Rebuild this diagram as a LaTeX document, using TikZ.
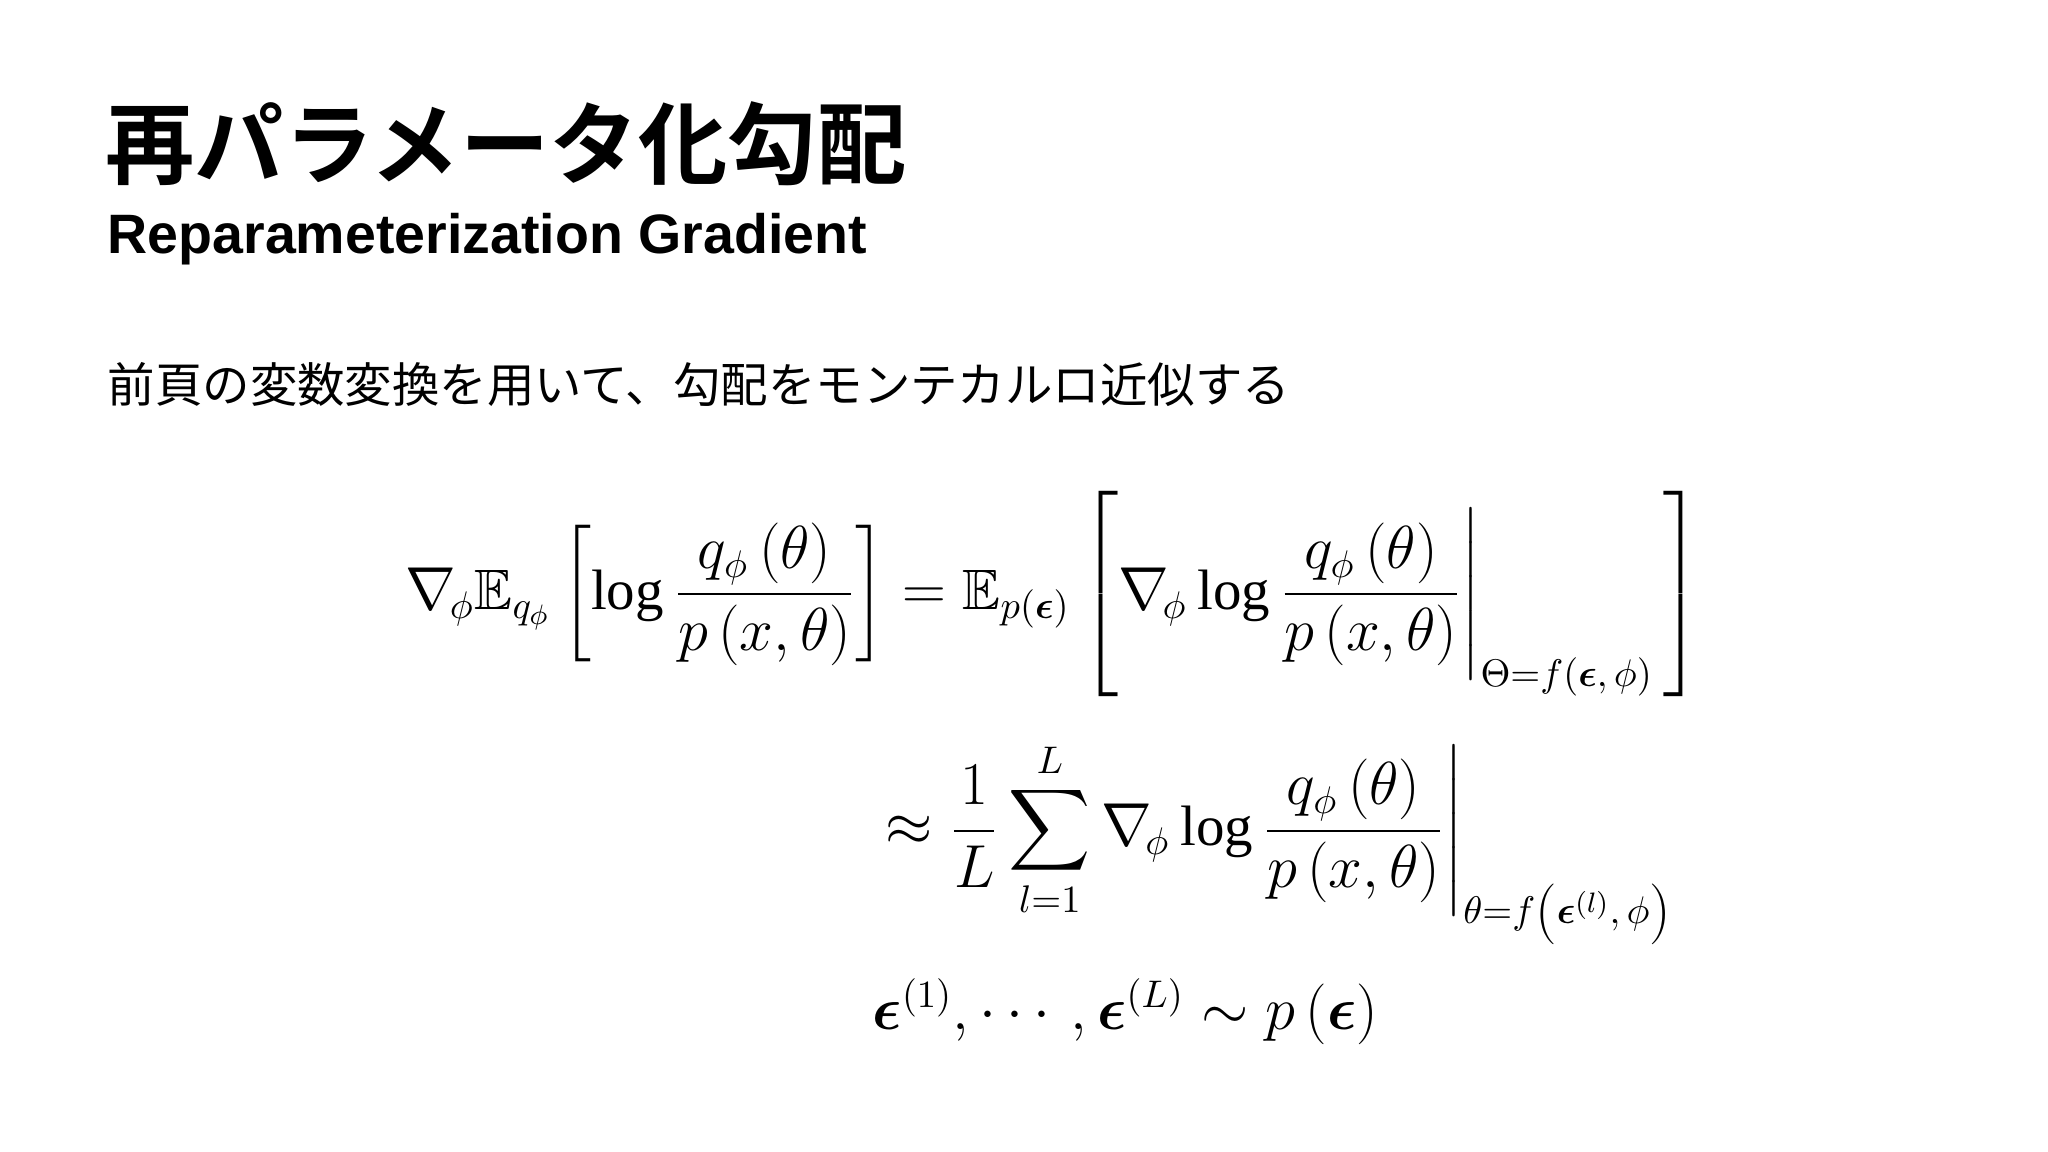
\documentclass[tikz,border=0pt]{standalone}
\usepackage{amsmath,amssymb,bm}
\usepackage{fontspec}
\setmainfont{Liberation Serif}
\newfontfamily\cjkb[BoldFont=* Bold]{Noto Sans CJK JP}
\newfontfamily\cjk{Noto Sans CJK JP}
\newfontfamily\hsans{Liberation Sans}
\begin{document}
\begin{tikzpicture}[x=1cm,y=1cm]
\useasboundingbox (0,0) rectangle (20.48,-11.52);
\tikzset{txt/.style={anchor=west,inner sep=0pt}}
\node[txt] (title) at (1.05,-1.44) {\fontsize{25.4}{30}\selectfont\cjkb\bfseries 再パラメータ化勾配};
\node[txt] (sub) at (1.07,-2.39) {\fontsize{15.8}{20}\selectfont\hsans\bfseries Reparameterization Gradient};
\node[txt] (body) at (1.07,-3.85) {\fontsize{13.5}{18}\selectfont\cjk 前頁の変数変換を用いて、勾配をモンテカルロ近似する};
\node[txt] (eq1) at (4.05,-5.94) {\fontsize{16.2}{20}\selectfont $\displaystyle \nabla_{\!\phi} \mathbb{E}_{q_\phi}\left[\log\frac{q_\phi\left(\theta\right)}{p\left(x,\theta\right)}\right] = \mathbb{E}_{p(\bm\epsilon)}\left[\nabla_{\!\phi}\log\frac{q_\phi\left(\theta\right)}{p\left(x,\theta\right)}\Bigg|_{\Theta=f\left(\bm\epsilon,\,\phi\right)}\,\right]$};
\node[txt] (eq2) at (8.85,-8.42) {\fontsize{16.2}{20}\selectfont $\displaystyle \approx\frac{1}{L}\sum_{l=1}^{L}\nabla_{\!\phi}\log\frac{q_\phi\left(\theta\right)}{p\left(x,\theta\right)}\Bigg|_{\theta=f\left(\bm\epsilon^{(l)},\,\phi\right)}$};
\node[txt] (eq3) at (8.72,-10.12) {\fontsize{16.2}{20}\selectfont $\bm\epsilon^{(1)},\cdots,\bm\epsilon^{(L)}\sim p\left(\bm\epsilon\right)$};
\end{tikzpicture}
\end{document}
